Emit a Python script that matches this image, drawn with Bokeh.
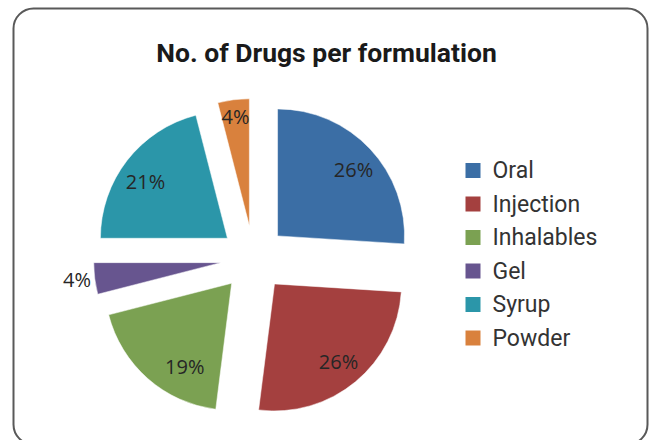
import math
from bokeh.plotting import figure
from bokeh.models import Range1d, ColumnDataSource, BoxAnnotation
from bokeh.core.properties import value
from bokeh.embed import file_html
from bokeh.resources import INLINE

# ---- data ----
title = "No. of Drugs per formulation"
categories = ["Oral", "Injection", "Inhalables", "Gel", "Syrup", "Powder"]
percents = [26, 26, 19, 4, 21, 4]
colors = ["#3B6EA5", "#A4403F", "#7BA152", "#67558F", "#2B96A9", "#D9813D"]

# ---- layout / style ----
W, H = 650, 440
CX, CY = 253, H - 258       # pie centre (data coords, y up)
R = 127                     # pie radius
EXPLODE = 33                # explosion distance
label_frac = [0.795, 0.79, 0.752, 1.14, 0.785, 0.87]
label_shift_deg = [2, 0, -12, 0.5, -3, 0]

p = figure(width=W, height=H, output_backend="svg", toolbar_location=None,
           x_range=Range1d(0, W), y_range=Range1d(0, H), min_border=0,
           outline_line_color=None, background_fill_color="white",
           border_fill_color="white")
p.axis.visible = False
p.grid.visible = False

total = float(sum(percents))
xs, ys, starts, ends, lx, ly, labels = [], [], [], [], [], [], []
acc = 0.0
for i, v in enumerate(percents):
    a0 = acc / total * 2 * math.pi          # clockwise from 12 o'clock
    acc += v
    a1 = acc / total * 2 * math.pi
    mid = (a0 + a1) / 2
    ox = CX + EXPLODE * math.sin(mid)
    oy = CY + EXPLODE * math.cos(mid)
    xs.append(ox)
    ys.append(oy)
    starts.append(math.pi / 2 - a1)
    ends.append(math.pi / 2 - a0)
    lr = label_frac[i] * R
    la = mid + math.radians(label_shift_deg[i])
    lx.append(ox + lr * math.sin(la))
    ly.append(oy + lr * math.cos(la))
    labels.append(f"{v}%")

src = ColumnDataSource(dict(x=xs, y=ys, start=starts, end=ends, color=colors,
                            lx=lx, ly=ly, label=labels, cat=categories))
p.wedge(x="x", y="y", radius=R, start_angle="start", end_angle="end",
        direction="anticlock", fill_color="color", line_color="white",
        line_width=0.5, source=src)
p.text(x="lx", y="ly", text="label", source=src, text_align="center",
       text_baseline="middle", text_font=value("Open Sans"),
       text_font_size="20px", text_color="#262626")

# legend (manual)
leg_x = 472.5
leg_y0 = H - 170
leg_dy = 33.5
lg = ColumnDataSource(dict(
    x=[leg_x] * len(categories),
    y=[leg_y0 - i * leg_dy for i in range(len(categories))],
    tx=[leg_x + 19.5] * len(categories),
    color=colors, cat=categories))
p.rect(x="x", y="y", width=15, height=15, fill_color="color",
       line_color=None, source=lg)
p.text(x="tx", y="y", text="cat", source=lg, text_align="left",
       text_baseline="middle", text_font=value("Roboto"),
       text_font_size="23px", text_color="#333333")

# title
p.text(x=[326], y=[H - 52], text=[title], text_align="center",
       text_baseline="middle", text_font=value("Roboto"),
       text_font_size="26.5px", text_font_style="bold", text_color="#1a1a1a")

# rounded border
p.add_layout(BoxAnnotation(left=13, right=647, top=H - 8, bottom=-4,
                           border_radius=20, fill_alpha=0,
                           line_color="#595959", line_alpha=1.0,
                           line_width=2))

open("out.html", "w").write(file_html(p, INLINE))
